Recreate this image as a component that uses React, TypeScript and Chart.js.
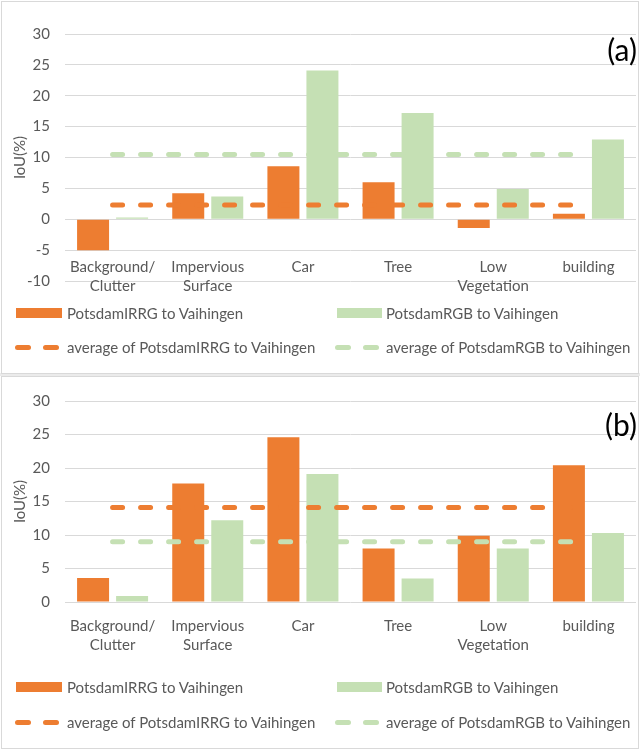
import React, { useEffect, useRef } from 'react';
import { Chart, registerables } from 'chart.js';

Chart.register(...registerables);

// ---------- data ----------
const categories: (string | string[])[] = [
  ['Background/', 'Clutter'],
  ['Impervious', 'Surface'],
  'Car',
  'Tree',
  ['Low', 'Vegetation'],
  'building',
];
const seriesLabels = [
  'PotsdamIRRG to Vaihingen',
  'PotsdamRGB to Vaihingen',
  'average of PotsdamIRRG to Vaihingen',
  'average of PotsdamRGB to Vaihingen',
];
const irrgA = [-5.0, 4.2, 8.6, 6.0, -1.4, 0.9];
const rgbA = [0.3, 3.7, 24.1, 17.2, 4.9, 12.9];
const avgIrrgA = 2.3;
const avgRgbA = 10.5;
const irrgB = [3.6, 17.7, 24.6, 8.0, 9.9, 20.4];
const rgbB = [0.9, 12.2, 19.1, 3.5, 8.0, 10.3];
const avgIrrgB = 14.1;
const avgRgbB = 9.0;
const yRangeA = [-10, 30];
const yRangeB = [0, 30];
const yStep = 5;
const yTitle = 'IoU(%)';
const panelLabels = ['(a)', '(b)'];

// ---------- styles ----------
const ORANGE = '#ED7D31';
const GREEN = '#C5E0B4';
const TEXT = '#595959';
const GRID = '#D9D9D9';
const FONT = 'Lato, "Open Sans", sans-serif';

type PanelProps = {
  top: number;
  height: number;
  irrg: number[];
  rgb: number[];
  avgIrrg: number;
  avgRgb: number;
  yRange: number[];
  padTop: number;
  padBottom: number;
  xAt: number;
  xPad: number;
  label: string;
  labelTop: number;
  legendRow1: number;
  legendRow2: number;
};

function Panel(p: PanelProps) {
  const ref = useRef<HTMLCanvasElement | null>(null);
  useEffect(() => {
    if (!ref.current) return;
    const chart = new Chart(ref.current, {
      type: 'bar',
      data: {
        labels: categories as any,
        datasets: [
          {
            type: 'line',
            label: seriesLabels[2],
            data: categories.map(() => p.avgIrrg),
            borderColor: ORANGE,
            borderWidth: 5,
            borderDash: [10, 18],
            borderCapStyle: 'round',
            pointRadius: 0,
            fill: false,
            order: 0,
          } as any,
          {
            type: 'line',
            label: seriesLabels[3],
            data: categories.map(() => p.avgRgb),
            borderColor: GREEN,
            borderWidth: 5,
            borderDash: [10, 18],
            borderCapStyle: 'round',
            pointRadius: 0,
            fill: false,
            order: 0,
          } as any,
          {
            type: 'bar',
            label: seriesLabels[0],
            data: p.irrg,
            backgroundColor: ORANGE,
            categoryPercentage: 0.82,
            barPercentage: 0.82,
            order: 1,
          },
          {
            type: 'bar',
            label: seriesLabels[1],
            data: p.rgb,
            backgroundColor: GREEN,
            categoryPercentage: 0.82,
            barPercentage: 0.82,
            order: 1,
          },
        ],
      },
      options: {
        animation: false,
        responsive: false,
        maintainAspectRatio: false,
        layout: { padding: { left: 2, right: 4, top: p.padTop, bottom: p.padBottom } },
        plugins: { legend: { display: false }, tooltip: { enabled: false } },
        scales: {
          x: {
            position: { y: p.xAt } as any,
            grid: { display: false, drawTicks: false },
            border: { display: false },
            ticks: {
              color: TEXT,
              padding: p.xPad,
              maxRotation: 0,
              autoSkip: false,
              font: { family: FONT, size: 15, lineHeight: 19 / 15 },
            },
          },
          y: {
            min: p.yRange[0],
            max: p.yRange[1],
            grid: { color: GRID, lineWidth: 1, drawTicks: false },
            border: { display: false },
            ticks: {
              stepSize: yStep,
              color: TEXT,
              padding: 15,
              font: { family: FONT, size: 15 },
            },
            title: {
              display: true,
              text: yTitle,
              color: TEXT,
              padding: { top: 9, bottom: 0 },
              font: { family: FONT, size: 15 },
            },
            afterFit: (s: any) => {
              s.width = 63;
            },
          },
        },
      },
    });
    return () => chart.destroy();
  }, []);

  const txt: React.CSSProperties = {
    position: 'absolute',
    fontFamily: FONT,
    fontSize: 15,
    color: TEXT,
    lineHeight: '18px',
    whiteSpace: 'nowrap',
  };
  const dash = (left: number, top: number, color: string) => (
    <div
      style={{
        position: 'absolute',
        left,
        top: top - 2.5,
        width: 16,
        height: 5,
        borderRadius: 2.5,
        background: color,
      }}
    />
  );
  const r1 = p.legendRow1;
  const r2 = p.legendRow2;
  return (
    <div style={{ position: 'absolute', left: 0, top: p.top, width: 640, height: p.height }}>
      <canvas ref={ref} width={640} height={p.height} style={{ position: 'absolute', left: 0, top: 0 }} />
      <div
        style={{
          position: 'absolute',
          right: 3,
          top: p.labelTop,
          fontFamily: FONT,
          fontSize: 30,
          lineHeight: '32px',
          color: '#000',
        }}
      >
        {p.label}
      </div>
      {/* legend */}
      <div style={{ position: 'absolute', left: 16, top: r1 - 5, width: 46, height: 10, background: ORANGE }} />
      <div style={{ ...txt, left: 67, top: r1 - 9 }}>{seriesLabels[0]}</div>
      <div style={{ position: 'absolute', left: 337, top: r1 - 5, width: 45, height: 10, background: GREEN }} />
      <div style={{ ...txt, left: 386, top: r1 - 9 }}>{seriesLabels[1]}</div>
      {dash(15, r2, ORANGE)}
      {dash(43, r2, ORANGE)}
      <div style={{ ...txt, left: 67, top: r2 - 9 }}>{seriesLabels[2]}</div>
      {dash(335, r2, GREEN)}
      {dash(363, r2, GREEN)}
      <div style={{ ...txt, left: 386, top: r2 - 9 }}>{seriesLabels[3]}</div>
    </div>
  );
}

export default function App() {
  return (
    <div style={{ position: 'absolute', left: 0, top: 0, width: 640, height: 751, background: '#fff', overflow: 'hidden' }}>
      <Panel
        top={0}
        height={374}
        irrg={irrgA}
        rgb={rgbA}
        avgIrrg={avgIrrgA}
        avgRgb={avgRgbA}
        yRange={yRangeA}
        padTop={34}
        padBottom={93}
        xAt={-5}
        xPad={7.5}
        label={panelLabels[0]}
        labelTop={33}
        legendRow1={313}
        legendRow2={347}
      />
      <Panel
        top={375}
        height={376}
        irrg={irrgB}
        rgb={rgbB}
        avgIrrg={avgIrrgB}
        avgRgb={avgRgbB}
        yRange={yRangeB}
        padTop={26}
        padBottom={149}
        xAt={0}
        xPad={14.5}
        label={panelLabels[1]}
        labelTop={33}
        legendRow1={312}
        legendRow2={347}
      />
      {/* panel frames */}
      <div style={{ position: 'absolute', left: 0, top: 373, width: 640, height: 3, background: '#EBEBEB' }} />
      <div style={{ position: 'absolute', left: 1, top: 1, width: 638, height: 373, boxSizing: 'border-box', border: '1px solid #D9D9D9' }} />
      <div style={{ position: 'absolute', left: 1, top: 376, width: 638, height: 373, boxSizing: 'border-box', border: '1px solid #D9D9D9' }} />
    </div>
  );
}
